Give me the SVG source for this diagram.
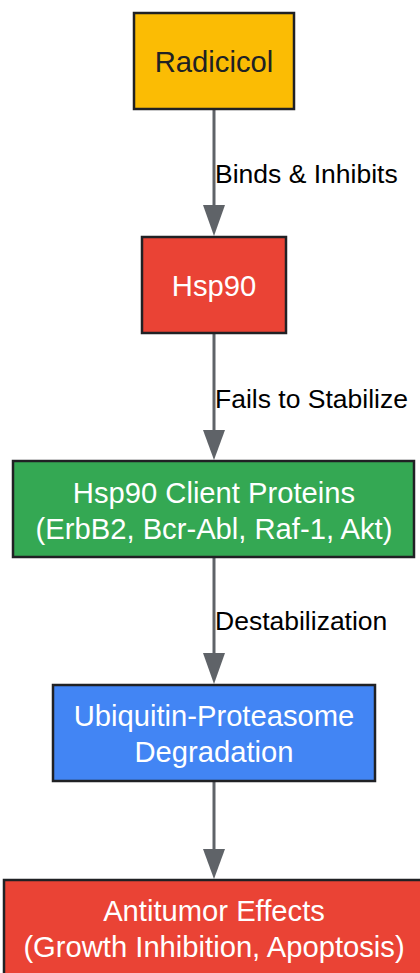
<svg xmlns="http://www.w3.org/2000/svg" width="420" height="973" viewBox="0 0 420 973">
<style>
.node rect{stroke:#202124;stroke-width:2.5}
.nt{font-family:"Liberation Sans",Arial,sans-serif;font-size:29.2px;text-anchor:middle;fill:#ffffff}
.lbl{font-family:"Liberation Sans",Arial,sans-serif;font-size:26.5px;fill:#000000}
.edge{stroke:#5f6368;stroke-width:3;fill:none}
.head{fill:#5f6368}
</style>
<g id="connectors">
<line class="edge" x1="214" y1="109" x2="214" y2="205"/>
<path class="head" d="M203,205 L225,205 L214,236 Z"/>
<line class="edge" x1="214" y1="333" x2="214" y2="430"/>
<path class="head" d="M203,430 L225,430 L214,460 Z"/>
<line class="edge" x1="214" y1="557" x2="214" y2="653"/>
<path class="head" d="M203,653 L225,653 L214,684 Z"/>
<line class="edge" x1="214" y1="781" x2="214" y2="849"/>
<path class="head" d="M203,849 L225,849 L214,879 Z"/>
<text class="lbl" x="215" y="182.5">Binds &amp; Inhibits</text>
<text class="lbl" x="215" y="407.5">Fails to Stabilize</text>
<text class="lbl" x="215" y="629.5">Destabilization</text>
</g>
<g id="radicicol" class="node">
<rect x="134" y="13" width="160" height="96" fill="#fbbc04"/>
<text class="nt" x="214" y="72" style="fill:#202124">Radicicol</text>
</g>
<g id="hsp90" class="node">
<rect x="142" y="237" width="144" height="96" fill="#ea4335"/>
<text class="nt" x="214" y="296">Hsp90</text>
</g>
<g id="clients" class="node">
<rect x="13" y="461" width="401" height="96" fill="#34a853"/>
<text class="nt" x="214" y="502.5">Hsp90 Client Proteins</text>
<text class="nt" x="214" y="539">(ErbB2, Bcr-Abl, Raf-1, Akt)</text>
</g>
<g id="ups" class="node">
<rect x="53" y="685" width="322" height="96" fill="#4285f4"/>
<text class="nt" x="214" y="726">Ubiquitin-Proteasome</text>
<text class="nt" x="214" y="762">Degradation</text>
</g>
<g id="antitumor" class="node">
<rect x="4" y="880" width="420" height="96" fill="#ea4335"/>
<text class="nt" x="214" y="920.5">Antitumor Effects</text>
<text class="nt" x="214" y="956.5">(Growth Inhibition, Apoptosis)</text>
</g>
</svg>
